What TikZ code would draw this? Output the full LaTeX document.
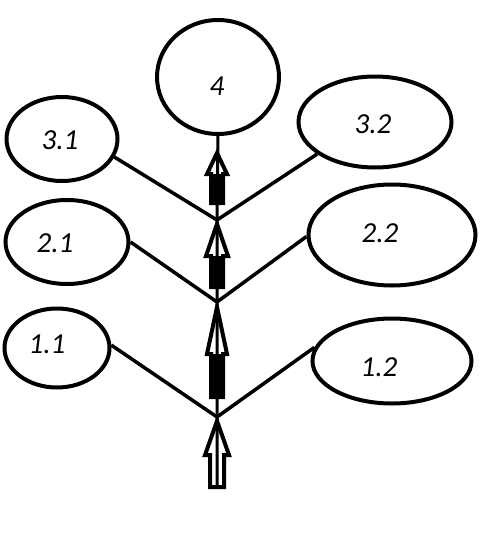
\documentclass[tikz,border=0pt]{standalone}
\usepackage{fontspec}
\setmainfont{Carlito}
\usetikzlibrary{shapes.geometric}
\begin{document}
\begin{tikzpicture}[x=1pt,y=-1pt,
  ell/.style={draw,ellipse,line width=4pt,inner sep=0pt},
  lbl/.style={font=\fontsize{29}{29}\selectfont\itshape,inner sep=0pt},
  conn/.style={line width=3.5pt},
  headshape/.style={draw,fill=white,line width=4pt,line join=miter},
  shaft/.style={fill=black}]
\useasboundingbox (0,0) rectangle (481,538);
% ellipses
\node[ell,minimum width=122pt,minimum height=114pt] (n4) at (218,77) {};
\node[ell,minimum width=111pt,minimum height=84pt] (n31) at (62,139) {};
\node[ell,minimum width=153pt,minimum height=91pt] (n32) at (375,122) {};
\node[ell,minimum width=123pt,minimum height=84pt] (n21) at (67,242) {};
\node[ell,minimum width=167pt,minimum height=101pt] (n22) at (392,235) {};
\node[ell,minimum width=105pt,minimum height=79pt] (n11) at (57,348) {};
\node[ell,minimum width=159pt,minimum height=85pt] (n12) at (392,361) {};
% labels
\node[lbl] (t4) at (217,86) {4};
\node[lbl] (t31) at (60,140) {3.1};
\node[lbl] (t32) at (373,124) {3.2};
\node[lbl] (t21) at (55,243) {2.1};
\node[lbl] (t22) at (380,233) {2.2};
\node[lbl] (t11) at (47,344) {1.1};
\node[lbl] (t12) at (379,367) {1.2};
% junctions
\coordinate (j1) at (217,417);
\coordinate (j2) at (217,302);
\coordinate (j3) at (217,220);
\coordinate (base) at (217,488);
% branch connectors
\draw[conn] (n31.-19) -- (j3);
\draw[conn] (n32.209) -- (j3);
\draw[conn] (n21.0) -- (j2);
\draw[conn] (n22.181) -- (j2);
\draw[conn] (n11.3) -- (j1);
\draw[conn] (n12.170) -- (j1);
% bottom hollow arrow
\draw[headshape] (210,487) -- (210,455) -- (205,455) -- (217,421) -- (229,455) -- (224,455) -- (224,487) -- cycle;
% arrow j1 -> j2
\draw[headshape] (211,397) -- (211,354) -- (207,354) -- (217,307) -- (227,354) -- (223,354) -- (223,397) -- cycle;
\fill[shaft] (209,354) rectangle (225,399);
% arrow j2 -> j3
\draw[headshape] (211,287) -- (211,256) -- (206,256) -- (217,224) -- (228,256) -- (223,256) -- (223,287) -- cycle;
\fill[shaft] (209,256) rectangle (225,289);
% arrow j3 -> 4
\draw[headshape] (211,203) -- (211,174) -- (207,174) -- (217,153) -- (227,174) -- (223,174) -- (223,203) -- cycle;
\fill[shaft] (209,174) rectangle (225,205);
% stem
\draw[line width=3pt] (base) -- (j1) -- (j2) -- (j3) -- (n4.south);
\end{tikzpicture}
\end{document}
